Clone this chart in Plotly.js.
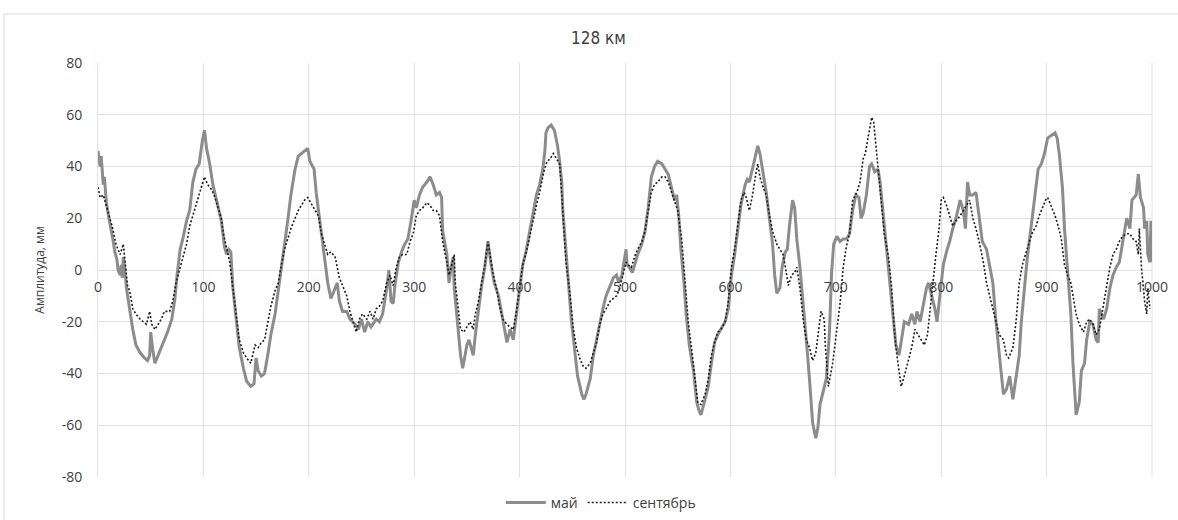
<!DOCTYPE html>
<html>
<head>
<meta charset="utf-8">
<script src="https://cdn.plot.ly/plotly-3.0.1.min.js"></script>
<style>html,body{margin:0;padding:0;background:#fff;}#chart{width:1178px;height:520px;}</style>
</head>
<body>
<div id="chart"></div>
<script>
const chartTitle = "128 км";
const yTitle = "Амплитуда, мм";
const seriesNames = ["май", "сентябрь"];
const xTicks = [0,100,200,300,400,500,600,700,800,900,1000];
const yTicks = [-80,-60,-40,-20,0,20,40,60,80];

// май: [distance, amplitude]
const mayPoints = [
[0,46],[2,40],[3,44],[5,33],[6,36],[8,26],[10,21],[12,17],[14,12],[16,7],[18,4],[19,0],[21,-2],[22,2],[23,-3],[24,5],[25,2],[27,-7],[30,-15],[33,-23],[36,-29],[40,-32],[44,-34],[47,-35],[49,-33],[50,-24],[52,-31],[54,-36],[57,-33],[62,-28],[66,-24],[70,-19],[73,-11],[75,-2],[78,8],[81,13],[84,19],[87,23],[90,34],[93,39],[96,41],[99,50],[101,54],[103,47],[106,41],[109,33],[114,24],[117,19],[120,9],[122,6],[124,8],[126,7],[128,-7],[131,-20],[134,-30],[138,-38],[141,-43],
[145,-45],[148,-44],[150,-34],[152,-39],[155,-41],[158,-40],[161,-33],[164,-25],[168,-17],[171,-8],[174,-1],[177,9],[180,19],[183,29],[187,39],[190,44],[193,45],[196,46],[199,47],[201,42],[205,39],[207,30],[210,21],[213,11],[216,3],[218,-5],[221,-11],[225,-7],[227,-5],[229,-12],[232,-16],[236,-16],[239,-19],[244,-21],[247,-23],[250,-19],[253,-24],[256,-20],[259,-22],[264,-19],[267,-20],[270,-17],[274,-7],[276,0],[278,-12],
[280,-13],[282,-5],[285,3],[288,7],[291,10],[294,12],[297,19],[300,27],[302,24],[305,29],[308,32],[312,34],[315,36],[318,33],[321,29],[324,30],[326,28],[327,15],[331,6],[333,-5],[335,1],[337,5],[338,-7],[342,-23],[344,-33],[346,-38],[350,-29],[352,-27],[354,-30],[356,-33],[358,-25],[361,-15],[364,-6],[367,1],[370,11],[373,2],[376,-5],[380,-10],[383,-17],[386,-25],[388,-28],[391,-23],[394,-27],[397,-17],[400,-7],[403,2],[406,7],[410,16],[413,23],[416,29],[419,33],[422,39],[424,46],[425,53],
[427,55],[430,56],[433,54],[436,48],[438,42],[440,34],[441,23],[443,11],[446,-3],[449,-19],[452,-30],[455,-41],[459,-48],[461,-50],[463,-48],[467,-42],[470,-33],[473,-27],[476,-20],[479,-15],[482,-10],[486,-6],[489,-3],[492,-2],[494,-5],[497,-2],[500,6],[501,8],[502,2],[504,1],[507,-1],[509,2],[512,6],[516,10],[519,15],[522,24],[525,36],[528,40],[531,42],[535,41],[538,39],[541,37],[544,32],[547,27],[549,29],[551,21],[553,8],[556,-5],[558,-17],[561,-29],[565,-39],[568,-51],[570,-54],
[572,-56],[576,-50],[579,-45],[582,-36],[585,-28],[588,-25],[591,-23],[595,-20],[598,-15],[601,-2],[604,6],[607,15],[610,25],[614,33],[616,35],[618,34],[621,39],[625,46],[626,48],[628,45],[631,37],[634,30],[637,20],[640,10],[642,-2],[644,-9],[647,-7],[649,1],[652,7],[654,8],[656,17],[659,27],[661,24],[663,12],[666,1],[669,-12],[672,-27],[675,-42],[678,-59],[681,-65],[683,-61],[685,-52],[688,-47],[691,-42],[694,-24],[696,-1],[698,10],[701,13],[704,11],[707,12],[710,12],[713,14],
[716,23],[719,29],[722,28],[724,20],[726,22],[729,29],[732,40],[734,41],[737,38],[740,39],[742,34],[745,21],[748,8],[751,-5],[754,-19],[757,-29],[760,-33],[762,-28],[765,-20],[769,-21],[772,-17],[775,-21],[777,-16],[780,-20],[783,-14],[786,-7],[788,-5],[791,-10],[794,-15],[796,-20],[799,-10],[802,2],[805,7],[808,11],[811,16],[814,20],[818,27],[821,23],[823,16],[825,34],[827,29],[830,29],[833,30],[836,20],[839,11],[843,8],[846,2],[849,-5],[852,-20],[855,-33],
[859,-48],[862,-46],[865,-41],[868,-50],[871,-41],[874,-33],[876,-20],[879,-7],[882,6],[886,19],[889,30],[892,39],[895,41],[898,45],[901,51],[905,52],[908,53],[910,51],[912,45],[915,32],[917,16],[920,-1],[923,-17],[925,-36],[928,-56],[931,-51],[933,-39],[936,-36],[938,-27],[941,-20],[944,-21],[947,-27],[949,-28],[950,-15],[954,-19],[957,-15],[960,-7],[963,-2],[966,1],[969,3],[972,10],[976,20],[979,16],[981,27],[985,29],[987,37],[989,28],[992,24],[993,16],[995,19],[996,6],[998,3],[999,19],[1000,3]
];

// сентябрь: [distance, amplitude]
const sepPoints = [
[0,32],[2,28],[5,29],[8,25],[11,21],[14,16],[17,10],[21,6],[24,10],[25,6],[28,-6],[30,-8],[33,-15],[36,-17],[40,-19],[43,-20],[46,-21],[49,-16],[51,-21],[54,-23],[57,-21],[60,-19],[63,-16],[68,-16],[71,-12],[74,-5],[78,1],[81,5],[84,10],[87,17],[90,21],[93,25],[97,30],[100,34],[101,36],[104,33],[108,31],[111,28],[114,24],[117,20],[119,14],[122,8],[125,3],[128,-7],[131,-17],[134,-27],[138,-32],[141,-34],
[145,-36],[149,-29],[152,-30],[155,-28],[158,-27],[161,-20],[164,-14],[168,-8],[171,-5],[174,2],[177,8],[180,12],[183,16],[187,20],[190,23],[193,25],[196,27],[199,28],[202,26],[206,23],[209,21],[212,14],[215,10],[218,6],[221,7],[225,5],[227,1],[229,-3],[232,-6],[236,-10],[239,-16],[242,-20],[245,-24],[248,-19],[251,-17],[255,-19],[258,-16],[261,-19],[264,-15],[267,-14],[270,-12],[274,-5],[277,-2],[280,-6],
[283,1],[286,5],[289,6],[293,6],[296,11],[299,14],[302,21],[305,23],[308,24],[312,26],[315,25],[318,23],[321,23],[324,21],[327,11],[331,3],[333,-2],[335,1],[338,6],[339,-5],[342,-15],[344,-23],[347,-24],[350,-22],[353,-20],[356,-23],[358,-17],[361,-12],[364,-5],[367,2],[370,11],[372,5],[375,-2],[378,-7],[381,-14],[384,-19],[388,-21],[391,-22],[394,-23],[397,-16],[400,-7],[403,2],[407,8],[410,14],[413,20],[416,25],[419,30],[423,38],[426,42],
[429,43],[432,45],[435,43],[438,41],[440,29],[442,16],[444,3],[448,-10],[451,-23],[454,-30],[457,-34],[460,-37],[463,-38],[467,-36],[470,-32],[473,-28],[476,-21],[479,-17],[482,-15],[486,-12],[489,-11],[492,-10],[495,-7],[498,-2],[501,3],[503,2],[506,1],[509,5],[512,8],[516,11],[519,15],[522,23],[525,30],[528,33],[531,34],[535,36],[538,36],[541,34],[544,30],[547,27],[550,23],[554,11],[557,-5],[560,-20],[563,-30],[566,-41],[569,-51],
[572,-52],[576,-48],[579,-42],[582,-33],[585,-28],[588,-24],[591,-23],[595,-20],[598,-12],[601,1],[604,8],[607,17],[610,27],[613,30],[615,28],[618,23],[621,29],[624,37],[626,41],[628,36],[631,32],[634,29],[637,21],[640,15],[644,10],[647,8],[650,6],[653,-1],[655,-6],[658,-2],[661,-1],[663,1],[666,-7],[669,-19],[672,-27],[675,-30],[678,-35],[681,-32],[683,-25],[686,-16],[689,-19],[690,-29],[693,-45],[694,-43],[697,-36],[701,-23],[704,-13],[707,1],[710,9],[713,14],
[716,27],[720,30],[723,34],[726,43],[728,45],[731,52],[734,59],[736,57],[738,48],[741,37],[743,27],[746,14],[750,5],[753,-7],[755,-20],[757,-30],[760,-39],[762,-45],[765,-41],[769,-34],[772,-30],[775,-23],[778,-25],[781,-27],[784,-29],[787,-25],[789,-17],[792,-7],[795,6],[798,16],[800,27],[802,28],[805,25],[808,21],[811,17],[814,19],[818,21],[821,23],[824,25],[827,27],[830,20],[833,16],[836,11],[840,3],[843,-5],[846,-10],[849,-15],[852,-21],[855,-25],
[859,-27],[862,-33],[864,-34],[868,-30],[871,-20],[874,-5],[877,2],[880,6],[883,10],[886,14],[890,17],[893,21],[896,24],[899,27],[901,28],[905,24],[908,21],[911,17],[914,12],[917,2],[920,-2],[923,-5],[925,-10],[928,-17],[931,-21],[935,-24],[938,-20],[941,-19],[944,-21],[947,-25],[950,-23],[954,-14],[957,-6],[960,1],[963,6],[966,8],[969,11],[972,13],[976,14],[979,14],[982,12],[985,11],[987,6],[988,16],[990,1],[992,-7],[993,-12],[995,-17],[996,-7],[998,-15]
];

const traces = [
  {
    x: mayPoints.map(p => p[0]), y: mayPoints.map(p => p[1]),
    name: seriesNames[0], type: 'scatter', mode: 'lines',
    line: {color: '#8c8c8c', width: 3}
  },
  {
    x: sepPoints.map(p => p[0]), y: sepPoints.map(p => p[1]),
    name: seriesNames[1], type: 'scatter', mode: 'lines',
    line: {color: '#1a1a1a', width: 1.6, dash: '2px,2px'}
  }
];

const gridCol = '#e3e3e3';
const layout = {
  width: 1178, height: 520,
  paper_bgcolor: '#ffffff', plot_bgcolor: '#ffffff',
  margin: {l: 98, r: 26, t: 63, b: 43, autoexpand: false},
  title: {
    text: chartTitle, x: 0.508, xref: 'container', xanchor: 'center',
    y: 0.927, yref: 'container', yanchor: 'middle',
    font: {family: 'Liberation Sans Narrow, DejaVu Sans Condensed, Arial Narrow, sans-serif', size: 17, color: '#404040'}
  },
  xaxis: {
    range: [0, 1000], tickvals: xTicks, ticktext: xTicks.map(String),
    anchor: 'free', position: 0.5,
    showgrid: true, gridcolor: gridCol, gridwidth: 1,
    showline: false, zeroline: false,
    ticks: 'outside', ticklen: 4, tickcolor: 'rgba(0,0,0,0)',
    tickfont: {family: 'Open Sans, sans-serif', size: 14, color: '#404040'},
    automargin: false, fixedrange: true
  },
  yaxis: {
    range: [-80, 80], tickvals: yTicks, ticktext: yTicks.map(String),
    showgrid: true, gridcolor: gridCol, gridwidth: 1,
    zeroline: true, zerolinecolor: gridCol, zerolinewidth: 1,
    showline: true, linecolor: gridCol, linewidth: 1,
    ticks: 'outside', ticklen: 12, tickcolor: 'rgba(0,0,0,0)',
    tickfont: {family: 'Open Sans, sans-serif', size: 14, color: '#404040'},
    title: {text: yTitle, standoff: 14, font: {family: 'Open Sans, sans-serif', size: 12, color: '#404040'}},
    automargin: false, fixedrange: true
  },
  showlegend: true,
  legend: {
    orientation: 'h', x: 0.51, xref: 'container', xanchor: 'center',
    y: 0.033, yref: 'container', yanchor: 'middle',
    font: {family: 'Open Sans, sans-serif', size: 14, color: '#404040'},
    bgcolor: 'rgba(0,0,0,0)', itemwidth: 40, tracegroupgap: 0
  },
  shapes: [
    {type: 'line', xref: 'paper', yref: 'paper', x0: -0.0892, x1: 1.03, y0: 1.1184, y1: 1.1184, line: {color: '#d9d9d9', width: 1}},
    {type: 'line', xref: 'paper', yref: 'paper', x0: -0.0892, x1: -0.0892, y0: 1.1184, y1: -0.11, line: {color: '#d9d9d9', width: 1}},
    {type: 'line', xref: 'paper', yref: 'paper', x0: 1, x1: 1, y0: 0, y1: 1, line: {color: gridCol, width: 1}, layer: 'below'}
  ]
};

Plotly.newPlot('chart', traces, layout, {displayModeBar: false, staticPlot: true});
</script>
</body>
</html>
